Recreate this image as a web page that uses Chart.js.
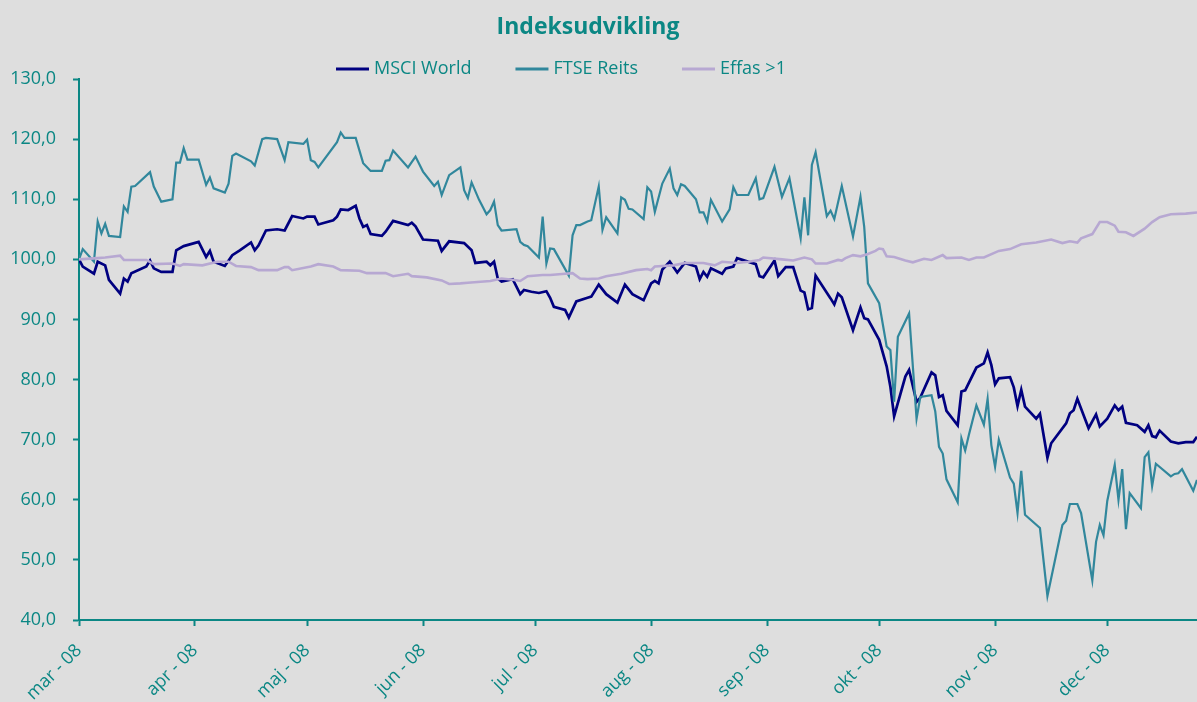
<!DOCTYPE html>
<html>
<head>
<meta charset="utf-8">
<script src="https://cdn.jsdelivr.net/npm/chart.js@4.4.1/dist/chart.umd.min.js"></script>
<style>
  body { margin: 0; background: #dedede; }
  #wrap { width: 1197px; height: 702px; }
</style>
</head>
<body>
<div id="wrap"><canvas id="chart"></canvas></div>
<script>
// x values are days counted from 1 march 2008
const monthDays = [0, 31, 61, 92, 122, 153, 184, 214, 245, 275];
const monthLabels = ["mar - 08", "apr - 08", "maj - 08", "jun - 08", "jul - 08",
  "aug - 08", "sep - 08", "okt - 08", "nov - 08", "dec - 08"];
const yTicks = [40, 50, 60, 70, 80, 90, 100, 110, 120, 130];
const seriesNames = ["MSCI World", "FTSE Reits", "Effas >1"];

const msciDays = [
  0, 1, 4, 5, 7, 8, 11, 12, 13, 14, 18, 19, 20, 22, 25, 26, 28,
  32, 34, 35, 36, 39, 41, 43, 46, 47, 48, 50, 53, 55, 57, 60,
  61, 63, 64, 68, 69, 70, 72, 74, 75, 76, 77, 78, 81, 82, 84, 88, 89, 90,
  92, 96, 97, 99, 103, 105, 106, 109, 110, 111, 112, 113, 116, 118, 119, 121,
  123, 125, 126, 127, 130, 131, 133, 136, 137, 139, 141, 144, 146, 148, 151,
  153, 154, 155, 156, 158, 160, 162, 165, 166, 167, 168, 169, 172, 173, 175, 176, 181, 182, 183,
  186, 187, 189, 191, 193, 194, 195, 196, 197, 201, 202, 203, 204, 207, 209, 210, 211,
  214, 216, 217, 218, 221, 222, 224, 225, 228, 229, 230, 231, 232, 235, 236, 237, 240, 242, 243, 244,
  245, 246, 249, 250, 251, 252, 253, 256, 257, 259, 260, 264, 265, 266, 267, 270, 272, 273,
  275, 277, 278, 279, 280, 283, 285, 286, 287, 288, 289, 292, 294, 296, 298, 299
];
const msciValues = [
  100.0, 98.8, 97.6, 99.6, 99.0, 96.6, 94.3, 96.8, 96.3, 97.7, 98.8, 99.8, 98.5, 97.9, 97.9, 101.5, 102.2,
  102.9, 100.4, 101.4, 99.6, 98.9, 100.7, 101.5, 102.8, 101.5, 102.3, 104.8, 105.0, 104.8, 107.2, 106.8,
  107.1, 107.1, 105.8, 106.5, 107.1, 108.3, 108.2, 108.9, 106.8, 105.4, 105.7, 104.2, 103.9, 104.6, 106.4, 105.7, 106.1, 105.5,
  103.3, 103.1, 101.4, 103.0, 102.7, 101.5, 99.4, 99.6, 99.0, 99.6, 96.8, 96.3, 96.7, 94.2, 94.9, 94.6,
  94.4, 94.7, 93.6, 92.1, 91.6, 90.3, 93.0, 93.6, 93.8, 95.8, 94.2, 92.8, 95.8, 94.2, 93.2,
  96.0, 96.4, 96.0, 98.3, 99.6, 97.8, 99.4, 98.8, 96.7, 97.9, 97.1, 98.5, 97.6, 98.5, 98.8, 100.2, 99.2, 97.2, 97.0,
  99.8, 97.2, 98.7, 98.7, 94.8, 94.5, 91.7, 91.9, 97.3, 93.5, 92.5, 94.3, 93.7, 88.2, 92.0, 90.2, 90.0,
  86.6, 82.2, 78.8, 73.9, 80.5, 81.6, 76.3, 77.0, 81.2, 80.7, 77.1, 77.4, 74.8, 72.4, 78.0, 78.2, 82.0, 82.7, 84.5, 82.4,
  79.2, 80.2, 80.4, 78.7, 75.6, 78.3, 75.5, 73.5, 74.3, 67.0, 69.4, 72.7, 74.4, 74.9, 76.8, 71.9, 74.2, 72.2,
  73.5, 75.7, 74.9, 75.5, 72.8, 72.4, 71.3, 72.4, 70.6, 70.4, 71.5, 69.7, 69.4, 69.6, 69.6, 70.5
];

const ftseDays = [
  0, 1, 4, 5, 6, 7, 8, 11, 12, 13, 14, 15, 19, 20, 22, 25, 26, 27, 28, 29,
  32, 34, 35, 36, 39, 40, 41, 42, 46, 47, 49, 50, 53, 55, 56, 60,
  61, 62, 63, 64, 69, 70, 71, 74, 76, 78, 81, 82, 83, 84, 88, 90,
  92, 95, 96, 97, 99, 102, 103, 104, 105, 107, 109, 110, 111, 112, 113, 117, 118, 119, 120,
  123, 124, 125, 126, 127, 131, 132, 133, 134, 136, 137, 139, 140, 141, 144, 145, 146, 147, 148, 151, 152,
  153, 154, 156, 158, 159, 160, 161, 162, 165, 166, 167, 168, 169, 172, 174, 175, 176, 179, 181, 182, 183,
  186, 188, 190, 193, 194, 195, 196, 197, 200, 201, 202, 204, 207, 209, 210, 211,
  214, 216, 217, 218, 219, 222, 224, 225, 228, 229, 230, 231, 232, 235, 236, 237, 238, 240, 242, 243, 244,
  245, 246, 249, 250, 251, 252, 253, 257, 259, 263, 264, 265, 267, 268, 271, 272, 273, 274,
  275, 277, 278, 279, 280, 281, 284, 285, 286, 287, 288, 292, 293, 294, 295, 298, 299
];
const ftseValues = [
  100.0, 101.7, 99.6, 106.3, 104.3, 105.9, 103.9, 103.7, 108.8, 107.9, 112.1, 112.2, 114.5, 112.1, 109.6, 110.0, 116.1, 116.1, 118.5, 116.6,
  116.6, 112.4, 113.6, 111.8, 111.1, 112.6, 117.2, 117.6, 116.3, 115.6, 120.0, 120.2, 120.0, 116.5, 119.5, 119.2,
  119.9, 116.5, 116.2, 115.3, 119.5, 121.1, 120.2, 120.2, 116.0, 114.7, 114.7, 116.4, 116.5, 118.1, 115.3, 117.1,
  114.6, 112.2, 112.9, 110.7, 114.0, 115.3, 111.5, 110.2, 112.8, 109.9, 107.5, 108.2, 109.6, 105.7, 104.8, 105.0, 102.9, 102.4, 102.2,
  100.3, 107.1, 99.3, 101.8, 101.7, 97.3, 104.0, 105.7, 105.7, 106.3, 106.5, 112.1, 104.9, 107.0, 104.3, 110.3, 109.9, 108.4, 108.3, 106.7, 112.0,
  111.3, 107.9, 112.6, 115.1, 111.8, 110.7, 112.5, 112.2, 110.0, 107.8, 107.8, 106.3, 109.9, 106.3, 108.3, 112.0, 110.7, 110.7, 113.5, 110.0, 110.2,
  115.4, 110.4, 113.5, 103.5, 110.3, 104.0, 115.7, 117.8, 107.2, 108.1, 106.7, 112.2, 103.8, 110.4, 105.4, 96.0,
  92.7, 85.5, 84.9, 76.3, 87.1, 91.0, 73.5, 77.1, 77.4, 74.7, 68.8, 67.7, 63.4, 59.6, 70.2, 68.2, 70.8, 75.7, 72.5, 76.8, 69.1,
  65.5, 70.0, 63.7, 62.7, 57.8, 64.8, 57.5, 55.3, 44.0, 55.8, 56.5, 59.3, 59.3, 57.8, 46.6, 53.0, 55.8, 54.1,
  59.8, 65.8, 60.0, 65.1, 55.1, 61.1, 58.6, 67.1, 67.9, 62.3, 66.0, 63.9, 64.3, 64.4, 65.1, 61.5, 63.3
];

const effasDays = [
  0, 5, 7, 11, 12, 18, 20, 25, 27, 28,
  33, 37, 40, 42, 46, 48, 53, 55, 56, 57,
  62, 64, 68, 70, 75, 77, 82, 84, 88, 89,
  93, 97, 99, 102, 104, 110, 113, 116, 118, 120,
  124, 126, 130, 132, 134, 136, 139, 141, 145, 149, 152,
  153, 154, 159, 162, 167, 170, 172, 176, 179, 182, 183,
  188, 191, 194, 196, 197, 200, 203, 204, 205, 207, 209, 211, 213,
  214, 215, 216, 218, 221, 223, 226, 228, 231, 232, 236, 238, 240, 242,
  246, 249, 252, 256, 260, 263, 265, 267, 268, 271, 273,
  275, 277, 278, 280, 282, 285, 287, 289, 292, 296, 299
];
const effasValues = [
  100.0, 100.2, 100.3, 100.6, 99.9, 99.9, 99.2, 99.3, 98.9, 99.2,
  99.0, 99.6, 99.6, 98.9, 98.7, 98.2, 98.2, 98.7, 98.7, 98.2,
  98.8, 99.2, 98.8, 98.2, 98.1, 97.7, 97.7, 97.2, 97.6, 97.2,
  97.0, 96.5, 95.9, 96.0, 96.1, 96.4, 96.8, 96.6, 96.4, 97.2,
  97.4, 97.4, 97.6, 97.7, 96.8, 96.7, 96.8, 97.2, 97.6, 98.2, 98.4,
  98.2, 98.8, 99.0, 99.4, 99.4, 99.0, 99.6, 99.4, 99.6, 99.9, 100.3,
  100.0, 99.8, 100.3, 100.0, 99.3, 99.3, 99.9, 99.8, 100.2, 100.7, 100.5, 100.9, 101.4,
  101.8, 101.7, 100.5, 100.4, 99.8, 99.5, 100.1, 99.9, 100.7, 100.2, 100.3, 99.9, 100.3, 100.3,
  101.4, 101.7, 102.5, 102.8, 103.3, 102.7, 103.0, 102.8, 103.5, 104.2, 106.2,
  106.2, 105.6, 104.6, 104.5, 103.9, 105.1, 106.2, 107.0, 107.5, 107.6, 107.8
];

const teal = "#0b8784";
const colors = ["#000080", "#31879c", "#b7a8d2"];
const widths = [2.7, 2.2, 2.6];

function toPoints(days, values) {
  return days.map((d, i) => ({ x: d, y: values[i] }));
}

// title and legend drawn at the top, as in the original sheet
const header = {
  id: "header",
  afterDraw(chart) {
    const ctx = chart.ctx;
    ctx.save();
    ctx.fillStyle = teal;
    ctx.textBaseline = "middle";
    ctx.textAlign = "center";
    ctx.font = "bold 23px 'Open Sans'";
    ctx.fillText("Indeksudvikling", 588, 27);

    ctx.font = "18px 'Open Sans'";
    ctx.textAlign = "left";
    let x = 336;
    seriesNames.forEach((name, i) => {
      ctx.strokeStyle = colors[i];
      ctx.lineWidth = 3;
      ctx.beginPath();
      ctx.moveTo(x, 69);
      ctx.lineTo(x + 33, 69);
      ctx.stroke();
      ctx.fillStyle = teal;
      ctx.fillText(name, x + 38, 69);
      x += 38 + ctx.measureText(name).width + 44;
    });
    ctx.restore();
  }
};

new Chart(document.getElementById("chart"), {
  type: "line",
  data: {
    datasets: [
      { label: seriesNames[0], data: toPoints(msciDays, msciValues) },
      { label: seriesNames[1], data: toPoints(ftseDays, ftseValues) },
      { label: seriesNames[2], data: toPoints(effasDays, effasValues) }
    ].map((ds, i) => Object.assign(ds, {
      borderColor: colors[i],
      backgroundColor: colors[i],
      borderWidth: widths[i],
      pointRadius: 0,
      tension: 0,
      order: 3 - i
    }))
  },
  options: {
    responsive: true,
    maintainAspectRatio: false,
    animation: false,
    layout: { padding: { top: 79, right: 0, bottom: 0, left: 0 } },
    plugins: { legend: { display: false }, title: { display: false }, tooltip: { enabled: false } },
    scales: {
      x: {
        type: "linear",
        min: 0,
        max: 299,
        afterBuildTicks: s => { s.ticks = monthDays.map(v => ({ value: v })); },
        afterFit: s => { s.height = 82; },
        ticks: {
          callback: v => monthLabels[monthDays.indexOf(v)],
          color: teal,
          font: { family: "'Open Sans'", size: 18 },
          minRotation: 45,
          maxRotation: 45,
          padding: 14,
          autoSkip: false
        },
        grid: { drawOnChartArea: false, drawTicks: true, tickLength: 6, tickColor: teal, tickWidth: 2 },
        border: { color: teal, width: 2 }
      },
      y: {
        min: 40,
        max: 130,
        afterBuildTicks: s => { s.ticks = yTicks.map(v => ({ value: v })); },
        afterFit: s => { s.width = 79; },
        ticks: {
          callback: v => v.toFixed(1).replace(".", ","),
          color: teal,
          font: { family: "'Open Sans'", size: 18 },
          padding: 17
        },
        grid: { drawOnChartArea: false, drawTicks: true, tickLength: 6, tickColor: teal, tickWidth: 2 },
        border: { color: teal, width: 2 }
      }
    }
  },
  plugins: [header]
});
</script>
</body>
</html>
